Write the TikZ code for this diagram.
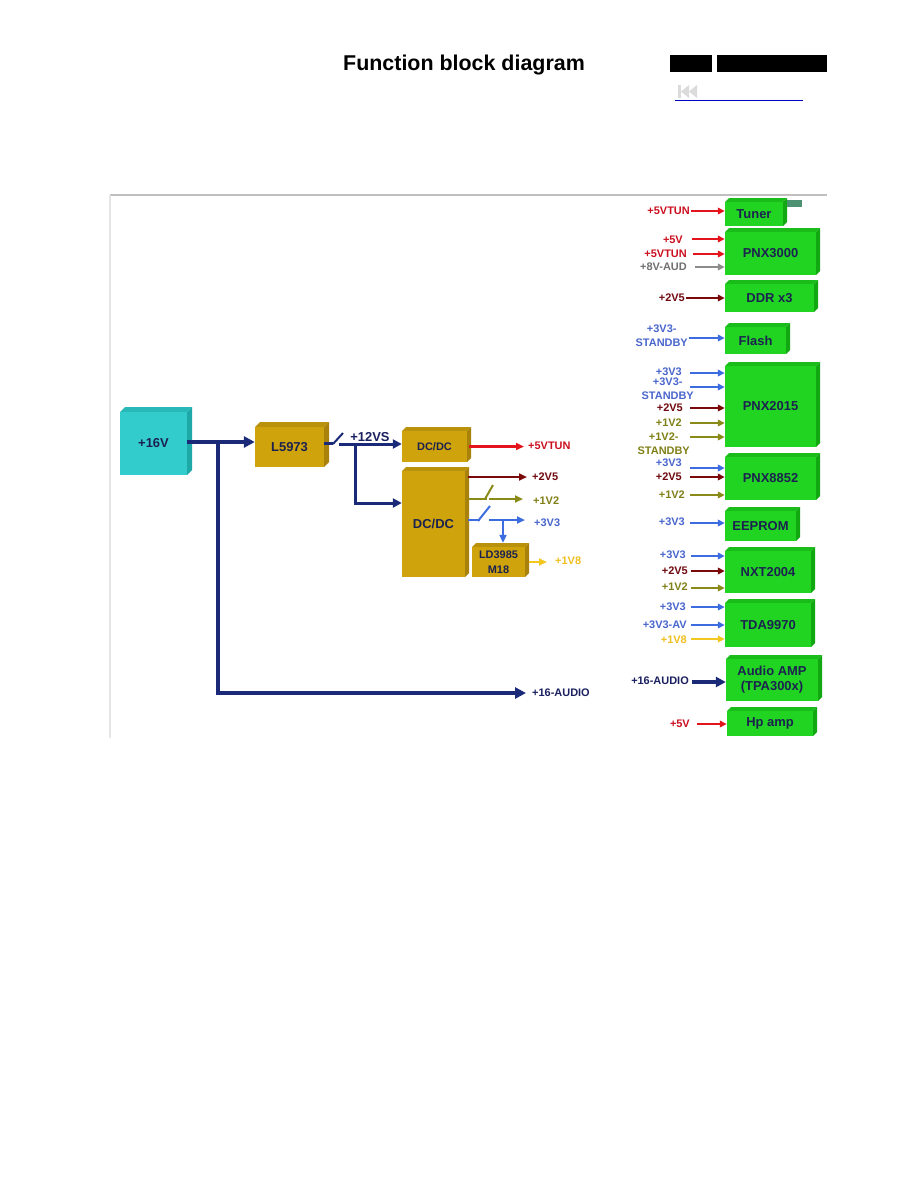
\documentclass[tikz,border=0pt]{standalone}
\usepackage{fontspec}
\setmainfont{Liberation Sans}
\usetikzlibrary{arrows.meta,fit}
\definecolor{navy}{HTML}{1B2A78}
\definecolor{navylbl}{HTML}{1A2060}
\definecolor{rd}{HTML}{E4141C}
\definecolor{rdlbl}{HTML}{CC1020}
\definecolor{drd}{HTML}{7A0A0A}
\definecolor{drdlbl}{HTML}{700A10}
\definecolor{olv}{HTML}{8A8A18}
\definecolor{olvlbl}{HTML}{808018}
\definecolor{blu}{HTML}{3C6CE0}
\definecolor{blulbl}{HTML}{4A66CC}
\definecolor{yel}{HTML}{F2C81E}
\definecolor{yellbl}{HTML}{F0C020}
\definecolor{gry}{HTML}{8C8C8C}
\definecolor{grylbl}{HTML}{707070}
\definecolor{cyanF}{HTML}{33CCCC}
\definecolor{cyanS}{HTML}{1FA8A8}
\definecolor{goldF}{HTML}{CFA30C}
\definecolor{goldS}{HTML}{A8820A}
\definecolor{grnF}{HTML}{22D422}
\definecolor{grnS}{HTML}{12A812}
\definecolor{boxtxt}{HTML}{1C2250}
\newcommand{\tdbox}[9]{%
  \fill[#7!55!#6] (#2,#3+#8) -- (#2+#8,#3) -- (#4,#3) -- (#4-#8,#3+#8) -- cycle;
  \fill[#7] (#4-#8,#3+#8) -- (#4,#3) -- (#4,#5-#8) -- (#4-#8,#5) -- cycle;
  \node[fit={(#2,#3+#8) (#4-#8,#5)}, inner sep=0pt, fill=#6] (#1) {};
  \node[boxlbl] (#1-t) at (#1.center) {#9};
}
\newcommand{\inp}[9]{%
  \node[lbl, text=#4, anchor=east] (#1) at (#2,#3) {#5};
  \coordinate (#1-s) at (#6,#7);
  \draw[inarr, #8] (#1-s) -- (#1-s -| #9.west);
}
\begin{document}
\begin{tikzpicture}[x=1bp,y=-1bp,
  boxlbl/.style={font=\bfseries\fontsize{13}{15}\selectfont, text=boxtxt, align=center, inner sep=0pt},
  lbl/.style={font=\bfseries\fontsize{11}{14}\selectfont, inner sep=0pt, align=center},
  inarr/.style={line width=2bp, -{Triangle[length=7bp,width=6.5bp]}},
  flow/.style={draw=navy, line width=4bp},
  flowarr/.style={flow, -{Triangle[length=11bp,width=11bp]}},
  mid/.style={draw=navy, line width=3bp},
  midarr/.style={mid, -{Triangle[length=9bp,width=9bp]}},
  outarr/.style={line width=2.2bp, -{Triangle[length=8bp,width=7bp]}},
  sw/.style={line width=2bp}]
\path[use as bounding box, fill=white] (0,0) rectangle (918,1188);

% header
\node[font=\bfseries\fontsize{21.5}{24}\selectfont, inner sep=0pt] (title) at (464,65) {Function block diagram};
\fill[black] (670,55) rectangle (712,72);
\fill[black] (717,55) rectangle (827,72);
\fill[black!14] (678,85) rectangle (681,98);
\fill[black!14] (681,91.5) -- (689,85) -- (689,98) -- cycle;
\fill[black!14] (689,91.5) -- (697,85) -- (697,98) -- cycle;
\draw[blue!75!black, line width=1bp] (675,100) -- (803,100);

% frame
\draw[black!25, line width=1.2bp] (110,195) -- (827,195);
\draw[black!10, line width=1.2bp] (110,195) -- (110,738);

% left blocks
\tdbox{v16}{120}{407}{192}{475}{cyanF}{cyanS}{5}{+16V}
\tdbox{l5973}{255}{422}{329}{467}{goldF}{goldS}{5}{L5973}
\tdbox{dcdc1}{402}{427}{471}{462}{goldF}{goldS}{4}{\fontsize{11}{13}\selectfont DC/DC}
\tdbox{dcdc2}{402}{467}{469}{577}{goldF}{goldS}{4}{DC/DC}
\tdbox{ld}{472}{543}{529}{577}{goldF}{goldS}{4}{\fontsize{11}{14}\selectfont LD3985\\\fontsize{11}{14}\selectfont M18}

% +16V flows
\coordinate (j1) at (218,442);
\draw[flowarr] (v16.east |- j1) -- (j1 -| l5973.west);
\node[lbl, text=navylbl, anchor=west] (aud16) at (532,693) {+16-AUDIO};
\draw[flowarr, line width=3.5bp] (j1) |- ([xshift=-6bp]aud16.west);

% L5973 output with switch
\coordinate (s1a) at (333,443);
\coordinate (s1b) at (339,444);
\draw[mid] (l5973.east |- s1a) -- (s1a);
\draw[navy, sw] (333,444) -- (343,433);
\draw[midarr] (s1b) -- (s1b -| dcdc1.west);
\node[font=\bfseries\fontsize{13}{15}\selectfont, text=navylbl, inner sep=0pt] (v12s) at (370,437) {+12VS};
\coordinate (j2) at (355,444);
\draw[midarr] (j2) |- (dcdc2.west |- 0,503);

% DC/DC outputs
\node[lbl, text=rdlbl, anchor=west] (v5tun) at (528,446) {+5VTUN};
\draw[outarr, rd] ([xshift=2bp]dcdc1.east) -- ([xshift=-4bp]v5tun.west |- dcdc1.east);
\node[lbl, text=drdlbl, anchor=west] (v2v5) at (532,477) {+2V5};
\draw[outarr, drd] ([xshift=3bp]dcdc2.east |- v2v5.west) -- ([xshift=-5bp]v2v5.west);
\node[lbl, text=olvlbl, anchor=west] (v1v2) at (533,501) {+1V2};
\coordinate (s2a) at (487,499);
\coordinate (s2b) at (489,499);
\draw[olv, line width=2.2bp] ([xshift=3bp]dcdc2.east |- s2a) -- (s2a);
\draw[olv, sw] (485,499) -- (493,485);
\draw[outarr, olv] (s2b) -- ([xshift=-10bp]v1v2.west |- s2b);
\node[lbl, text=blulbl, anchor=west] (v3v3) at (534,523) {+3V3};
\coordinate (s3a) at (480,520);
\coordinate (s3b) at (489,520);
\draw[blu, line width=2.2bp] ([xshift=3bp]dcdc2.east |- s3a) -- (s3a);
\draw[blu, sw] (478,521) -- (490,506);
\draw[outarr, blu] (s3b) -- ([xshift=-9bp]v3v3.west |- s3b);
\coordinate (j3) at (503,520);
\draw[outarr, blu] (j3) -- ([yshift=4bp]j3 |- ld.north);
\node[lbl, text=yellbl, anchor=west] (v1v8) at (555,561) {+1V8};
\draw[outarr, yel] ([xshift=4bp]ld.east) -- ([xshift=-8bp]v1v8.west |- ld.east);

% right blocks
\tdbox{tuner}{725}{198}{787}{226}{grnF}{grnS}{4}{Tuner}
\fill[teal!70!green!60!black!70] (787,200) rectangle (802,207);
\tdbox{pnx3000}{725}{228}{820}{275}{grnF}{grnS}{4}{PNX3000}
\tdbox{ddr}{725}{280}{818}{312}{grnF}{grnS}{4}{DDR x3}
\tdbox{flash}{725}{323}{790}{354}{grnF}{grnS}{4}{Flash}
\tdbox{pnx2015}{725}{362}{820}{447}{grnF}{grnS}{4}{PNX2015}
\tdbox{pnx8852}{725}{453}{820}{500}{grnF}{grnS}{4}{PNX8852}
\tdbox{eeprom}{725}{507}{800}{541}{grnF}{grnS}{4}{EEPROM}
\tdbox{nxt}{725}{547}{815}{593}{grnF}{grnS}{4}{NXT2004}
\tdbox{tda}{725}{599}{815}{647}{grnF}{grnS}{4}{TDA9970}
\tdbox{amp}{726}{655}{822}{701}{grnF}{grnS}{4}{Audio AMP\\(TPA300x)}
\tdbox{hp}{727}{707}{817}{736}{grnF}{grnS}{4}{Hp amp}

% right inputs
\inp{i1}{690}{211}{rdlbl}{+5VTUN}{691}{211}{rd}{tuner}
\inp{i2}{683}{240}{rdlbl}{+5V}{692}{239}{rd}{pnx3000}
\inp{i3}{687}{254}{rdlbl}{+5VTUN}{693}{254}{rd}{pnx3000}
\inp{i4}{687}{267}{grylbl}{+8V-AUD}{695}{267}{gry}{pnx3000}
\inp{i5}{685}{298}{drdlbl}{+2V5}{686}{298}{drd}{ddr}
\inp{i6}{688}{336}{blulbl}{+3V3-\\STANDBY}{689}{338}{blu}{flash}
\inp{i7}{682}{372}{blulbl}{+3V3}{690}{373}{blu}{pnx2015}
\inp{i8}{694}{389}{blulbl}{+3V3-\\STANDBY}{690}{387}{blu}{pnx2015}
\inp{i9}{683}{408}{drdlbl}{+2V5}{690}{408}{drd}{pnx2015}
\inp{i10}{682}{423}{olvlbl}{+1V2}{690}{423}{olv}{pnx2015}
\inp{i11}{690}{444}{olvlbl}{+1V2-\\STANDBY}{690}{437}{olv}{pnx2015}
\inp{i12}{682}{463}{blulbl}{+3V3}{690}{468}{blu}{pnx8852}
\inp{i13}{682}{477}{drdlbl}{+2V5}{690}{477}{drd}{pnx8852}
\inp{i14}{685}{495}{olvlbl}{+1V2}{690}{495}{olv}{pnx8852}
\inp{i15}{685}{522}{blulbl}{+3V3}{690}{523}{blu}{eeprom}
\inp{i16}{686}{555}{blulbl}{+3V3}{691}{556}{blu}{nxt}
\inp{i17}{688}{571}{drdlbl}{+2V5}{691}{571}{drd}{nxt}
\inp{i18}{688}{587}{olvlbl}{+1V2}{691}{588}{olv}{nxt}
\inp{i19}{686}{607}{blulbl}{+3V3}{691}{607}{blu}{tda}
\inp{i20}{687}{625}{blulbl}{+3V3-AV}{691}{625}{blu}{tda}
\inp{i21}{687}{640}{yellbl}{+1V8}{691}{639}{yel, line width=2.6bp}{tda}
\inp{i22}{689}{681}{navylbl}{+16-AUDIO}{692}{682}{navy, line width=4bp, -{Triangle[length=10bp,width=10bp]}}{amp}
\inp{i23}{690}{724}{rdlbl}{+5V}{697}{724}{rd}{hp}
\end{tikzpicture}
\end{document}
